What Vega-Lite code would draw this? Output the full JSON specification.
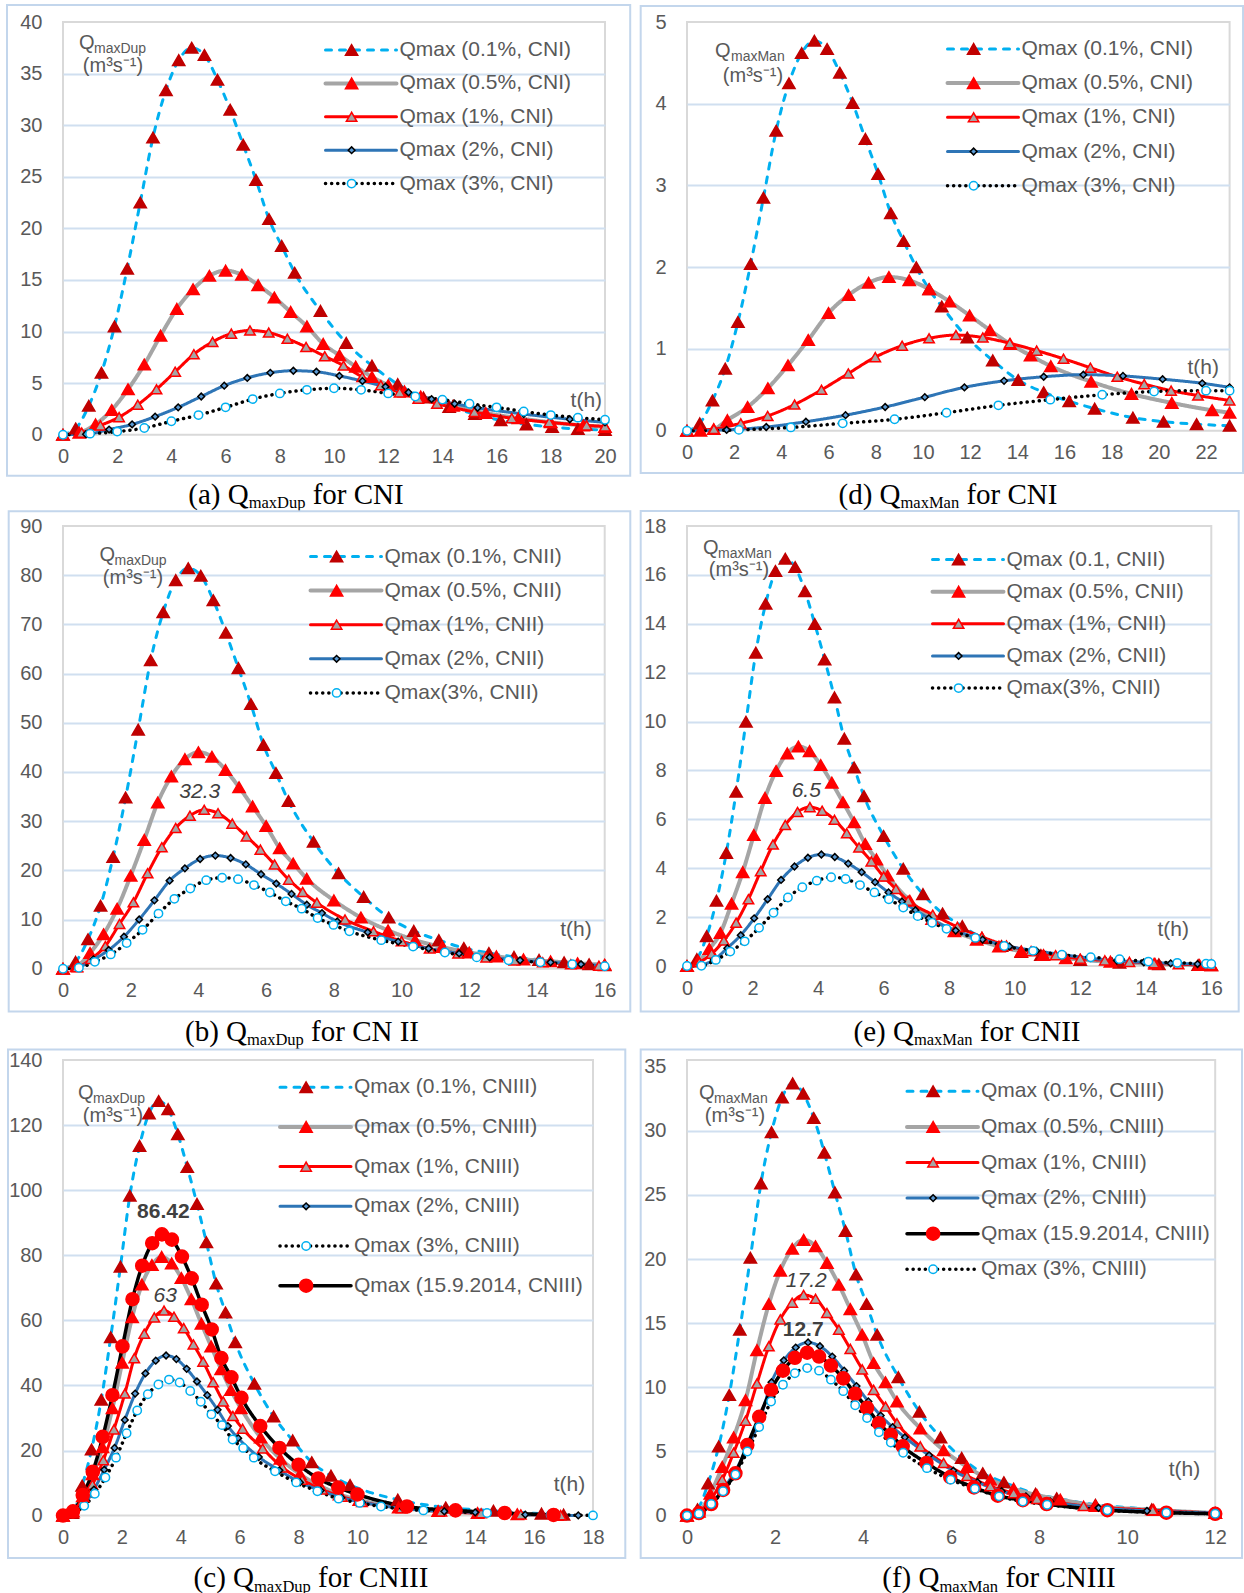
{
"$schema":"https://vega.github.io/schema/vega-lite/v6.json",
"padding":{"left":5,"top":2,"right":2,"bottom":0},
"background":"white",
"columns":2,
"spacing":{"row":91,"column":82},
"bounds":"flush",
"align":"each",
"datasets":{
"A":[
{"s":"a","t":0,"q":0},{"s":"a","t":0.47,"q":0.6},{"s":"a","t":0.95,"q":2.8},{"s":"a","t":1.42,"q":6.0},{"s":"a","t":1.9,"q":10.5},{"s":"a","t":2.37,"q":16.1},{"s":"a","t":2.85,"q":22.5},{"s":"a","t":3.32,"q":28.8},{"s":"a","t":3.8,"q":33.4},{"s":"a","t":4.27,"q":36.3},{"s":"a","t":4.75,"q":37.5},{"s":"a","t":5.22,"q":36.8},{"s":"a","t":5.7,"q":34.4},{"s":"a","t":6.17,"q":31.5},{"s":"a","t":6.65,"q":28.1},{"s":"a","t":7.12,"q":24.7},{"s":"a","t":7.6,"q":20.9},{"s":"a","t":8.07,"q":18.3},{"s":"a","t":8.55,"q":15.7},{"s":"a","t":9.5,"q":12.0},{"s":"a","t":10.45,"q":8.9},{"s":"a","t":11.4,"q":6.7},{"s":"a","t":12.35,"q":4.9},{"s":"a","t":13.3,"q":3.6},{"s":"a","t":14.25,"q":2.7},{"s":"a","t":15.2,"q":2.0},{"s":"a","t":16.15,"q":1.4},{"s":"a","t":17.1,"q":1.0},{"s":"a","t":18.05,"q":0.75},{"s":"a","t":19.0,"q":0.55},{"s":"a","t":20.0,"q":0.45},
{"s":"b","t":0,"q":0},{"s":"b","t":0.6,"q":0.2},{"s":"b","t":1.2,"q":1.0},{"s":"b","t":1.8,"q":2.4},{"s":"b","t":2.4,"q":4.4},{"s":"b","t":3.0,"q":6.8},{"s":"b","t":3.6,"q":9.6},{"s":"b","t":4.2,"q":12.2},{"s":"b","t":4.8,"q":14.1},{"s":"b","t":5.4,"q":15.4},{"s":"b","t":6.0,"q":15.9},{"s":"b","t":6.6,"q":15.5},{"s":"b","t":7.2,"q":14.5},{"s":"b","t":7.8,"q":13.3},{"s":"b","t":8.4,"q":11.9},{"s":"b","t":9.0,"q":10.5},{"s":"b","t":9.6,"q":8.8},{"s":"b","t":10.2,"q":7.7},{"s":"b","t":10.8,"q":6.6},{"s":"b","t":11.4,"q":5.6},{"s":"b","t":12.0,"q":4.8},{"s":"b","t":12.6,"q":4.2},{"s":"b","t":13.2,"q":3.7},{"s":"b","t":14.4,"q":2.8},{"s":"b","t":15.6,"q":2.1},{"s":"b","t":16.8,"q":1.6},{"s":"b","t":18.0,"q":1.2},{"s":"b","t":19.2,"q":0.9},{"s":"b","t":20.0,"q":0.75},
{"s":"c","t":0,"q":0},{"s":"c","t":0.69,"q":0.2},{"s":"c","t":1.38,"q":0.9},{"s":"c","t":2.07,"q":1.7},{"s":"c","t":2.76,"q":2.9},{"s":"c","t":3.45,"q":4.4},{"s":"c","t":4.14,"q":6.1},{"s":"c","t":4.83,"q":7.8},{"s":"c","t":5.52,"q":9.0},{"s":"c","t":6.21,"q":9.8},{"s":"c","t":6.9,"q":10.1},{"s":"c","t":7.59,"q":9.9},{"s":"c","t":8.28,"q":9.3},{"s":"c","t":8.97,"q":8.5},{"s":"c","t":9.66,"q":7.6},{"s":"c","t":10.35,"q":6.7},{"s":"c","t":11.04,"q":5.6},{"s":"c","t":11.73,"q":4.8},{"s":"c","t":12.42,"q":4.1},{"s":"c","t":13.11,"q":3.5},{"s":"c","t":13.8,"q":3.0},{"s":"c","t":15.18,"q":2.2},{"s":"c","t":16.56,"q":1.6},{"s":"c","t":17.94,"q":1.2},{"s":"c","t":19.32,"q":0.9},{"s":"c","t":20.0,"q":0.8},
{"s":"d","t":0,"q":0},{"s":"d","t":0.85,"q":0.05},{"s":"d","t":1.7,"q":0.5},{"s":"d","t":2.55,"q":1.0},{"s":"d","t":3.4,"q":1.75},{"s":"d","t":4.25,"q":2.65},{"s":"d","t":5.1,"q":3.7},{"s":"d","t":5.95,"q":4.75},{"s":"d","t":6.8,"q":5.5},{"s":"d","t":7.65,"q":6.0},{"s":"d","t":8.5,"q":6.2},{"s":"d","t":9.35,"q":6.1},{"s":"d","t":10.2,"q":5.7},{"s":"d","t":11.05,"q":5.2},{"s":"d","t":11.9,"q":4.65},{"s":"d","t":12.75,"q":4.1},{"s":"d","t":13.6,"q":3.45},{"s":"d","t":14.45,"q":3.0},{"s":"d","t":15.3,"q":2.6},{"s":"d","t":17.0,"q":2.0},{"s":"d","t":18.7,"q":1.5},{"s":"d","t":20.0,"q":1.2},
{"s":"e","t":0,"q":0},{"s":"e","t":1,"q":0.1},{"s":"e","t":2,"q":0.3},{"s":"e","t":3,"q":0.65},{"s":"e","t":4,"q":1.3},{"s":"e","t":5,"q":1.9},{"s":"e","t":6,"q":2.65},{"s":"e","t":7,"q":3.45},{"s":"e","t":8,"q":4.0},{"s":"e","t":9,"q":4.35},{"s":"e","t":10,"q":4.5},{"s":"e","t":11,"q":4.35},{"s":"e","t":12,"q":4.0},{"s":"e","t":13,"q":3.7},{"s":"e","t":14,"q":3.4},{"s":"e","t":15,"q":3.0},{"s":"e","t":16,"q":2.65},{"s":"e","t":17,"q":2.25},{"s":"e","t":18,"q":1.9},{"s":"e","t":19,"q":1.65},{"s":"e","t":20,"q":1.45}
],
"D":[
{"s":"a","t":0,"q":0},{"s":"a","t":0.54,"q":0.09},{"s":"a","t":1.08,"q":0.37},{"s":"a","t":1.62,"q":0.76},{"s":"a","t":2.16,"q":1.33},{"s":"a","t":2.7,"q":2.04},{"s":"a","t":3.24,"q":2.85},{"s":"a","t":3.78,"q":3.67},{"s":"a","t":4.32,"q":4.25},{"s":"a","t":4.86,"q":4.62},{"s":"a","t":5.4,"q":4.77},{"s":"a","t":5.94,"q":4.67},{"s":"a","t":6.48,"q":4.38},{"s":"a","t":7.02,"q":4.01},{"s":"a","t":7.56,"q":3.57},{"s":"a","t":8.1,"q":3.14},{"s":"a","t":8.64,"q":2.66},{"s":"a","t":9.18,"q":2.32},{"s":"a","t":9.72,"q":2.0},{"s":"a","t":10.26,"q":1.73},{"s":"a","t":10.8,"q":1.52},{"s":"a","t":11.88,"q":1.14},{"s":"a","t":12.96,"q":0.86},{"s":"a","t":14.04,"q":0.62},{"s":"a","t":15.12,"q":0.47},{"s":"a","t":16.2,"q":0.36},{"s":"a","t":17.28,"q":0.27},{"s":"a","t":18.9,"q":0.16},{"s":"a","t":20.2,"q":0.11},{"s":"a","t":21.6,"q":0.08},{"s":"a","t":23.0,"q":0.06},
{"s":"b","t":0,"q":0},{"s":"b","t":0.57,"q":0},{"s":"b","t":1.13,"q":0.02},{"s":"b","t":1.71,"q":0.13},{"s":"b","t":2.57,"q":0.29},{"s":"b","t":3.43,"q":0.52},{"s":"b","t":4.28,"q":0.8},{"s":"b","t":5.14,"q":1.11},{"s":"b","t":6.0,"q":1.44},{"s":"b","t":6.85,"q":1.66},{"s":"b","t":7.7,"q":1.81},{"s":"b","t":8.56,"q":1.88},{"s":"b","t":9.42,"q":1.84},{"s":"b","t":10.27,"q":1.73},{"s":"b","t":11.13,"q":1.58},{"s":"b","t":11.98,"q":1.41},{"s":"b","t":12.84,"q":1.23},{"s":"b","t":13.7,"q":1.06},{"s":"b","t":14.56,"q":0.92},{"s":"b","t":15.42,"q":0.79},{"s":"b","t":17.13,"q":0.6},{"s":"b","t":18.84,"q":0.45},{"s":"b","t":20.55,"q":0.34},{"s":"b","t":22.26,"q":0.25},{"s":"b","t":23.0,"q":0.22},
{"s":"c","t":0,"q":0},{"s":"c","t":1.14,"q":0.02},{"s":"c","t":2.28,"q":0.09},{"s":"c","t":3.42,"q":0.18},{"s":"c","t":4.56,"q":0.32},{"s":"c","t":5.7,"q":0.5},{"s":"c","t":6.84,"q":0.7},{"s":"c","t":7.98,"q":0.9},{"s":"c","t":9.12,"q":1.04},{"s":"c","t":10.26,"q":1.13},{"s":"c","t":11.4,"q":1.17},{"s":"c","t":12.54,"q":1.14},{"s":"c","t":13.68,"q":1.07},{"s":"c","t":14.82,"q":0.98},{"s":"c","t":15.96,"q":0.88},{"s":"c","t":17.1,"q":0.77},{"s":"c","t":18.24,"q":0.66},{"s":"c","t":19.38,"q":0.57},{"s":"c","t":20.52,"q":0.49},{"s":"c","t":21.66,"q":0.43},{"s":"c","t":23.0,"q":0.37},
{"s":"d","t":0,"q":0},{"s":"d","t":1.68,"q":0.01},{"s":"d","t":3.36,"q":0.045},{"s":"d","t":5.04,"q":0.11},{"s":"d","t":6.72,"q":0.19},{"s":"d","t":8.4,"q":0.29},{"s":"d","t":10.08,"q":0.41},{"s":"d","t":11.76,"q":0.53},{"s":"d","t":13.44,"q":0.61},{"s":"d","t":15.12,"q":0.66},{"s":"d","t":16.8,"q":0.685},{"s":"d","t":18.48,"q":0.67},{"s":"d","t":20.16,"q":0.63},{"s":"d","t":21.84,"q":0.58},{"s":"d","t":23.0,"q":0.53},
{"s":"e","t":0,"q":0},{"s":"e","t":2.2,"q":0.01},{"s":"e","t":4.4,"q":0.04},{"s":"e","t":6.6,"q":0.09},{"s":"e","t":8.8,"q":0.14},{"s":"e","t":11.0,"q":0.22},{"s":"e","t":13.2,"q":0.31},{"s":"e","t":15.4,"q":0.38},{"s":"e","t":17.6,"q":0.44},{"s":"e","t":19.8,"q":0.48},{"s":"e","t":22.0,"q":0.49},{"s":"e","t":23.0,"q":0.49}
],
"B":[
{"s":"a","t":0,"q":0},{"s":"a","t":0.37,"q":1.4},{"s":"a","t":0.74,"q":6.0},{"s":"a","t":1.11,"q":12.8},{"s":"a","t":1.48,"q":22.7},{"s":"a","t":1.85,"q":34.8},{"s":"a","t":2.22,"q":48.6},{"s":"a","t":2.59,"q":62.7},{"s":"a","t":2.96,"q":72.5},{"s":"a","t":3.33,"q":79.0},{"s":"a","t":3.7,"q":81.4},{"s":"a","t":4.07,"q":79.9},{"s":"a","t":4.44,"q":74.9},{"s":"a","t":4.81,"q":68.3},{"s":"a","t":5.18,"q":61.1},{"s":"a","t":5.55,"q":53.8},{"s":"a","t":5.92,"q":45.5},{"s":"a","t":6.29,"q":39.8},{"s":"a","t":6.66,"q":34.1},{"s":"a","t":7.4,"q":25.8},{"s":"a","t":8.14,"q":19.4},{"s":"a","t":8.88,"q":14.6},{"s":"a","t":9.62,"q":10.4},{"s":"a","t":10.36,"q":7.7},{"s":"a","t":11.1,"q":5.8},{"s":"a","t":11.84,"q":4.2},{"s":"a","t":12.58,"q":3.2},{"s":"a","t":13.32,"q":2.4},{"s":"a","t":14.06,"q":1.8},{"s":"a","t":14.8,"q":1.3},{"s":"a","t":15.54,"q":0.9},{"s":"a","t":16.0,"q":0.7},
{"s":"b","t":0,"q":0},{"s":"b","t":0.4,"q":0.5},{"s":"b","t":0.8,"q":3.2},{"s":"b","t":1.2,"q":7.0},{"s":"b","t":1.6,"q":12.2},{"s":"b","t":2.0,"q":18.9},{"s":"b","t":2.4,"q":26.2},{"s":"b","t":2.8,"q":33.8},{"s":"b","t":3.2,"q":39.1},{"s":"b","t":3.6,"q":42.6},{"s":"b","t":4.0,"q":44.0},{"s":"b","t":4.4,"q":43.1},{"s":"b","t":4.8,"q":40.4},{"s":"b","t":5.2,"q":36.9},{"s":"b","t":5.6,"q":33.0},{"s":"b","t":6.0,"q":29.0},{"s":"b","t":6.4,"q":24.5},{"s":"b","t":6.8,"q":21.4},{"s":"b","t":7.2,"q":18.3},{"s":"b","t":8.0,"q":13.9},{"s":"b","t":8.8,"q":10.4},{"s":"b","t":9.6,"q":7.8},{"s":"b","t":10.4,"q":5.8},{"s":"b","t":11.2,"q":4.4},{"s":"b","t":12.0,"q":3.3},{"s":"b","t":12.8,"q":2.5},{"s":"b","t":13.6,"q":1.9},{"s":"b","t":14.4,"q":1.5},{"s":"b","t":15.2,"q":1.1},{"s":"b","t":16.0,"q":0.8},
{"s":"c","t":0,"q":0},{"s":"c","t":0.42,"q":0.3},{"s":"c","t":0.83,"q":2.0},{"s":"c","t":1.25,"q":4.6},{"s":"c","t":1.67,"q":9.1},{"s":"c","t":2.08,"q":13.5},{"s":"c","t":2.5,"q":19.4},{"s":"c","t":2.92,"q":24.7},{"s":"c","t":3.33,"q":28.6},{"s":"c","t":3.75,"q":31.1},{"s":"c","t":4.17,"q":32.3},{"s":"c","t":4.58,"q":31.6},{"s":"c","t":5.0,"q":29.5},{"s":"c","t":5.42,"q":26.9},{"s":"c","t":5.83,"q":24.2},{"s":"c","t":6.25,"q":21.2},{"s":"c","t":6.67,"q":18.1},{"s":"c","t":7.08,"q":15.6},{"s":"c","t":7.5,"q":13.4},{"s":"c","t":8.33,"q":10.0},{"s":"c","t":9.17,"q":7.6},{"s":"c","t":10.0,"q":5.6},{"s":"c","t":10.83,"q":4.1},{"s":"c","t":11.67,"q":3.1},{"s":"c","t":12.5,"q":2.3},{"s":"c","t":13.33,"q":1.7},{"s":"c","t":14.17,"q":1.3},{"s":"c","t":15.0,"q":0.9},{"s":"c","t":15.83,"q":0.6},
{"s":"d","t":0,"q":0},{"s":"d","t":0.45,"q":0.3},{"s":"d","t":0.9,"q":1.9},{"s":"d","t":1.35,"q":3.8},{"s":"d","t":1.8,"q":6.5},{"s":"d","t":2.25,"q":10.0},{"s":"d","t":2.7,"q":13.9},{"s":"d","t":3.15,"q":17.9},{"s":"d","t":3.6,"q":20.4},{"s":"d","t":4.05,"q":22.3},{"s":"d","t":4.5,"q":23.0},{"s":"d","t":4.95,"q":22.5},{"s":"d","t":5.4,"q":21.2},{"s":"d","t":5.85,"q":19.2},{"s":"d","t":6.3,"q":17.3},{"s":"d","t":6.75,"q":15.2},{"s":"d","t":7.2,"q":13.0},{"s":"d","t":7.65,"q":11.3},{"s":"d","t":8.1,"q":9.6},{"s":"d","t":9.0,"q":7.4},{"s":"d","t":9.9,"q":5.5},{"s":"d","t":10.8,"q":4.1},{"s":"d","t":11.7,"q":3.1},{"s":"d","t":12.6,"q":2.3},{"s":"d","t":13.5,"q":1.7},{"s":"d","t":14.4,"q":1.3},{"s":"d","t":15.3,"q":0.9},{"s":"d","t":16.0,"q":0.6},
{"s":"e","t":0,"q":0},{"s":"e","t":0.47,"q":0.2},{"s":"e","t":0.94,"q":1.4},{"s":"e","t":1.41,"q":2.9},{"s":"e","t":1.88,"q":5.2},{"s":"e","t":2.35,"q":7.9},{"s":"e","t":2.82,"q":11.2},{"s":"e","t":3.29,"q":14.2},{"s":"e","t":3.76,"q":16.3},{"s":"e","t":4.23,"q":18.0},{"s":"e","t":4.7,"q":18.5},{"s":"e","t":5.17,"q":18.2},{"s":"e","t":5.64,"q":17.0},{"s":"e","t":6.11,"q":15.5},{"s":"e","t":6.58,"q":13.7},{"s":"e","t":7.05,"q":12.2},{"s":"e","t":7.52,"q":10.3},{"s":"e","t":7.99,"q":8.9},{"s":"e","t":8.46,"q":7.6},{"s":"e","t":9.4,"q":5.8},{"s":"e","t":10.34,"q":4.5},{"s":"e","t":11.28,"q":3.3},{"s":"e","t":12.22,"q":2.3},{"s":"e","t":13.16,"q":1.7},{"s":"e","t":14.1,"q":1.3},{"s":"e","t":15.04,"q":0.9},{"s":"e","t":16.0,"q":0.5}
],
"E":[
{"s":"a","t":0,"q":0},{"s":"a","t":0.3,"q":0.28},{"s":"a","t":0.6,"q":1.22},{"s":"a","t":0.9,"q":2.67},{"s":"a","t":1.2,"q":4.63},{"s":"a","t":1.5,"q":7.13},{"s":"a","t":1.8,"q":9.99},{"s":"a","t":2.1,"q":12.82},{"s":"a","t":2.4,"q":14.82},{"s":"a","t":2.7,"q":16.16},{"s":"a","t":3.0,"q":16.66},{"s":"a","t":3.3,"q":16.32},{"s":"a","t":3.6,"q":15.33},{"s":"a","t":3.9,"q":13.99},{"s":"a","t":4.2,"q":12.54},{"s":"a","t":4.5,"q":10.99},{"s":"a","t":4.8,"q":9.3},{"s":"a","t":5.1,"q":8.12},{"s":"a","t":5.4,"q":6.95},{"s":"a","t":6.0,"q":5.32},{"s":"a","t":6.6,"q":3.98},{"s":"a","t":7.2,"q":2.94},{"s":"a","t":7.8,"q":2.15},{"s":"a","t":8.4,"q":1.63},{"s":"a","t":9.0,"q":1.15},{"s":"a","t":9.6,"q":0.82},{"s":"a","t":10.2,"q":0.58},{"s":"a","t":10.8,"q":0.45},{"s":"a","t":12.0,"q":0.25},{"s":"a","t":13.2,"q":0.14},{"s":"a","t":14.4,"q":0.07},{"s":"a","t":15.6,"q":0.04},{"s":"a","t":16.0,"q":0.03},
{"s":"b","t":0,"q":0},{"s":"b","t":0.34,"q":0.2},{"s":"b","t":0.68,"q":0.7},{"s":"b","t":1.02,"q":1.35},{"s":"b","t":1.36,"q":2.55},{"s":"b","t":1.7,"q":3.84},{"s":"b","t":2.04,"q":5.36},{"s":"b","t":2.38,"q":6.88},{"s":"b","t":2.72,"q":7.98},{"s":"b","t":3.06,"q":8.7},{"s":"b","t":3.4,"q":8.98},{"s":"b","t":3.74,"q":8.79},{"s":"b","t":4.08,"q":8.22},{"s":"b","t":4.42,"q":7.5},{"s":"b","t":4.76,"q":6.7},{"s":"b","t":5.1,"q":5.88},{"s":"b","t":5.44,"q":4.99},{"s":"b","t":5.78,"q":4.36},{"s":"b","t":6.12,"q":3.7},{"s":"b","t":6.8,"q":2.67},{"s":"b","t":7.48,"q":1.93},{"s":"b","t":8.16,"q":1.42},{"s":"b","t":8.84,"q":1.08},{"s":"b","t":9.52,"q":0.8},{"s":"b","t":10.2,"q":0.6},{"s":"b","t":10.88,"q":0.45},{"s":"b","t":11.56,"q":0.32},{"s":"b","t":12.92,"q":0.18},{"s":"b","t":14.28,"q":0.09},{"s":"b","t":15.64,"q":0.04},{"s":"b","t":16.0,"q":0.03},
{"s":"c","t":0,"q":0},{"s":"c","t":0.375,"q":0.15},{"s":"c","t":0.75,"q":0.5},{"s":"c","t":1.125,"q":1.04},{"s":"c","t":1.5,"q":1.77},{"s":"c","t":1.875,"q":2.73},{"s":"c","t":2.25,"q":3.88},{"s":"c","t":2.625,"q":4.97},{"s":"c","t":3.0,"q":5.77},{"s":"c","t":3.375,"q":6.3},{"s":"c","t":3.75,"q":6.5},{"s":"c","t":4.125,"q":6.35},{"s":"c","t":4.5,"q":5.98},{"s":"c","t":4.875,"q":5.43},{"s":"c","t":5.25,"q":4.85},{"s":"c","t":5.625,"q":4.28},{"s":"c","t":6.0,"q":3.66},{"s":"c","t":6.375,"q":3.15},{"s":"c","t":6.75,"q":2.67},{"s":"c","t":7.5,"q":2.1},{"s":"c","t":8.25,"q":1.6},{"s":"c","t":9.0,"q":1.19},{"s":"c","t":9.75,"q":0.84},{"s":"c","t":10.5,"q":0.61},{"s":"c","t":11.25,"q":0.44},{"s":"c","t":12.0,"q":0.3},{"s":"c","t":12.75,"q":0.23},{"s":"c","t":13.5,"q":0.17},{"s":"c","t":14.25,"q":0.11},{"s":"c","t":15.0,"q":0.07},{"s":"c","t":16.0,"q":0.04},
{"s":"d","t":0,"q":0},{"s":"d","t":0.41,"q":0.04},{"s":"d","t":0.82,"q":0.25},{"s":"d","t":1.23,"q":0.73},{"s":"d","t":1.64,"q":1.26},{"s":"d","t":2.05,"q":1.95},{"s":"d","t":2.46,"q":2.73},{"s":"d","t":2.87,"q":3.52},{"s":"d","t":3.28,"q":4.07},{"s":"d","t":3.69,"q":4.43},{"s":"d","t":4.1,"q":4.56},{"s":"d","t":4.51,"q":4.46},{"s":"d","t":4.92,"q":4.19},{"s":"d","t":5.33,"q":3.84},{"s":"d","t":5.74,"q":3.43},{"s":"d","t":6.15,"q":3.01},{"s":"d","t":6.56,"q":2.64},{"s":"d","t":6.97,"q":2.28},{"s":"d","t":7.38,"q":1.95},{"s":"d","t":8.2,"q":1.45},{"s":"d","t":9.02,"q":1.08},{"s":"d","t":9.84,"q":0.8},{"s":"d","t":10.66,"q":0.62},{"s":"d","t":11.48,"q":0.46},{"s":"d","t":12.3,"q":0.32},{"s":"d","t":13.12,"q":0.22},{"s":"d","t":13.94,"q":0.15},{"s":"d","t":14.76,"q":0.11},{"s":"d","t":15.58,"q":0.08},{"s":"d","t":16.0,"q":0.06},
{"s":"e","t":0,"q":0},{"s":"e","t":0.44,"q":0.01},{"s":"e","t":0.88,"q":0.25},{"s":"e","t":1.32,"q":0.59},{"s":"e","t":1.76,"q":1.01},{"s":"e","t":2.2,"q":1.56},{"s":"e","t":2.64,"q":2.18},{"s":"e","t":3.08,"q":2.8},{"s":"e","t":3.52,"q":3.22},{"s":"e","t":3.96,"q":3.49},{"s":"e","t":4.4,"q":3.63},{"s":"e","t":4.84,"q":3.56},{"s":"e","t":5.28,"q":3.31},{"s":"e","t":5.72,"q":3.01},{"s":"e","t":6.16,"q":2.73},{"s":"e","t":6.6,"q":2.39},{"s":"e","t":7.04,"q":2.04},{"s":"e","t":7.48,"q":1.77},{"s":"e","t":7.92,"q":1.52},{"s":"e","t":8.8,"q":1.15},{"s":"e","t":9.68,"q":0.82},{"s":"e","t":10.56,"q":0.62},{"s":"e","t":11.44,"q":0.46},{"s":"e","t":12.32,"q":0.36},{"s":"e","t":13.2,"q":0.28},{"s":"e","t":14.08,"q":0.18},{"s":"e","t":14.96,"q":0.13},{"s":"e","t":15.84,"q":0.09},{"s":"e","t":16.0,"q":0.08}
],
"C":[
{"s":"a","t":0,"q":0},{"s":"a","t":0.32,"q":0.8},{"s":"a","t":0.65,"q":9.2},{"s":"a","t":0.97,"q":20.3},{"s":"a","t":1.3,"q":35.6},{"s":"a","t":1.62,"q":54.8},{"s":"a","t":1.95,"q":76.5},{"s":"a","t":2.27,"q":98.3},{"s":"a","t":2.6,"q":113.6},{"s":"a","t":2.92,"q":123.6},{"s":"a","t":3.25,"q":127.4},{"s":"a","t":3.57,"q":124.9},{"s":"a","t":3.9,"q":117.2},{"s":"a","t":4.22,"q":107.1},{"s":"a","t":4.55,"q":95.8},{"s":"a","t":4.87,"q":84.0},{"s":"a","t":5.2,"q":71.3},{"s":"a","t":5.52,"q":62.4},{"s":"a","t":5.85,"q":53.3},{"s":"a","t":6.5,"q":40.5},{"s":"a","t":7.15,"q":30.5},{"s":"a","t":7.8,"q":23.1},{"s":"a","t":8.45,"q":16.4},{"s":"a","t":9.1,"q":12.3},{"s":"a","t":9.75,"q":9.4},{"s":"a","t":11.37,"q":4.9},{"s":"a","t":13.0,"q":2.5},{"s":"a","t":14.62,"q":1.5},{"s":"a","t":16.25,"q":0.6},{"s":"a","t":17.0,"q":0.3},
{"s":"b","t":0,"q":0},{"s":"b","t":0.34,"q":1.3},{"s":"b","t":0.67,"q":6.0},{"s":"b","t":1.0,"q":12.7},{"s":"b","t":1.34,"q":21.0},{"s":"b","t":1.68,"q":33.0},{"s":"b","t":2.01,"q":47.0},{"s":"b","t":2.35,"q":61.0},{"s":"b","t":2.68,"q":71.0},{"s":"b","t":3.02,"q":77.0},{"s":"b","t":3.35,"q":79.5},{"s":"b","t":3.69,"q":77.5},{"s":"b","t":4.02,"q":73.0},{"s":"b","t":4.36,"q":66.5},{"s":"b","t":4.7,"q":59.0},{"s":"b","t":5.03,"q":52.0},{"s":"b","t":5.37,"q":45.0},{"s":"b","t":5.7,"q":38.6},{"s":"b","t":6.04,"q":33.0},{"s":"b","t":6.71,"q":24.0},{"s":"b","t":7.38,"q":17.5},{"s":"b","t":8.05,"q":12.7},{"s":"b","t":8.72,"q":9.2},{"s":"b","t":9.39,"q":6.5},{"s":"b","t":10.06,"q":4.8},{"s":"b","t":11.4,"q":2.5},{"s":"b","t":12.74,"q":1.4},{"s":"b","t":14.08,"q":0.8},{"s":"b","t":15.43,"q":0.4},{"s":"b","t":16.77,"q":0.2},
{"s":"c","t":0,"q":0},{"s":"c","t":0.34,"q":1.1},{"s":"c","t":0.67,"q":4.5},{"s":"c","t":1.0,"q":9.5},{"s":"c","t":1.37,"q":17.0},{"s":"c","t":1.73,"q":26.5},{"s":"c","t":2.1,"q":37.5},{"s":"c","t":2.42,"q":48.4},{"s":"c","t":2.76,"q":55.9},{"s":"c","t":3.1,"q":60.9},{"s":"c","t":3.43,"q":63.0},{"s":"c","t":3.77,"q":61.1},{"s":"c","t":4.1,"q":57.6},{"s":"c","t":4.43,"q":52.6},{"s":"c","t":4.76,"q":47.3},{"s":"c","t":5.1,"q":41.0},{"s":"c","t":5.44,"q":35.1},{"s":"c","t":5.77,"q":30.6},{"s":"c","t":6.1,"q":26.7},{"s":"c","t":6.78,"q":20.6},{"s":"c","t":7.45,"q":14.8},{"s":"c","t":8.12,"q":11.0},{"s":"c","t":8.8,"q":8.0},{"s":"c","t":9.47,"q":5.8},{"s":"c","t":10.15,"q":4.2},{"s":"c","t":11.5,"q":2.3},{"s":"c","t":12.85,"q":1.3},{"s":"c","t":14.2,"q":0.7},{"s":"c","t":15.55,"q":0.35},{"s":"c","t":16.9,"q":0.15},
{"s":"d","t":0,"q":0},{"s":"d","t":0.35,"q":1.3},{"s":"d","t":0.7,"q":3.2},{"s":"d","t":1.05,"q":8.0},{"s":"d","t":1.4,"q":14.1},{"s":"d","t":1.75,"q":20.8},{"s":"d","t":2.1,"q":29.4},{"s":"d","t":2.45,"q":37.5},{"s":"d","t":2.8,"q":43.7},{"s":"d","t":3.15,"q":47.6},{"s":"d","t":3.5,"q":49.2},{"s":"d","t":3.85,"q":48.1},{"s":"d","t":4.2,"q":45.1},{"s":"d","t":4.55,"q":41.2},{"s":"d","t":4.9,"q":37.0},{"s":"d","t":5.25,"q":32.5},{"s":"d","t":5.6,"q":27.5},{"s":"d","t":5.95,"q":23.8},{"s":"d","t":6.65,"q":18.0},{"s":"d","t":7.35,"q":13.9},{"s":"d","t":8.05,"q":10.2},{"s":"d","t":8.75,"q":7.7},{"s":"d","t":9.45,"q":5.5},{"s":"d","t":10.15,"q":4.1},{"s":"d","t":11.55,"q":2.2},{"s":"d","t":12.95,"q":1.3},{"s":"d","t":14.0,"q":1.0},{"s":"d","t":15.7,"q":0.3},{"s":"d","t":17.5,"q":0.05},
{"s":"e","t":0,"q":0},{"s":"e","t":0.36,"q":0.8},{"s":"e","t":0.72,"q":3.0},{"s":"e","t":1.08,"q":6.7},{"s":"e","t":1.44,"q":11.7},{"s":"e","t":1.8,"q":17.8},{"s":"e","t":2.16,"q":25.3},{"s":"e","t":2.52,"q":32.3},{"s":"e","t":2.88,"q":37.3},{"s":"e","t":3.24,"q":40.3},{"s":"e","t":3.6,"q":41.8},{"s":"e","t":3.96,"q":40.9},{"s":"e","t":4.32,"q":38.3},{"s":"e","t":4.68,"q":35.0},{"s":"e","t":5.04,"q":31.1},{"s":"e","t":5.4,"q":27.8},{"s":"e","t":5.76,"q":23.4},{"s":"e","t":6.12,"q":20.8},{"s":"e","t":6.48,"q":17.8},{"s":"e","t":7.2,"q":13.6},{"s":"e","t":7.92,"q":10.2},{"s":"e","t":8.64,"q":7.5},{"s":"e","t":9.36,"q":5.2},{"s":"e","t":10.08,"q":3.9},{"s":"e","t":10.8,"q":2.8},{"s":"e","t":12.24,"q":1.6},{"s":"e","t":14.4,"q":0.8},{"s":"e","t":16.56,"q":0.25},{"s":"e","t":18.0,"q":0.05},
{"s":"f","t":0,"q":0},{"s":"f","t":0.34,"q":1.3},{"s":"f","t":0.67,"q":6.3},{"s":"f","t":1.01,"q":13.5},{"s":"f","t":1.35,"q":24.2},{"s":"f","t":1.68,"q":37.0},{"s":"f","t":2.02,"q":52.0},{"s":"f","t":2.36,"q":66.5},{"s":"f","t":2.69,"q":76.8},{"s":"f","t":3.03,"q":83.7},{"s":"f","t":3.36,"q":86.42},{"s":"f","t":3.7,"q":84.8},{"s":"f","t":4.04,"q":79.6},{"s":"f","t":4.37,"q":72.9},{"s":"f","t":4.71,"q":64.8},{"s":"f","t":5.05,"q":57.2},{"s":"f","t":5.38,"q":48.4},{"s":"f","t":5.72,"q":42.5},{"s":"f","t":6.06,"q":36.2},{"s":"f","t":6.7,"q":27.5},{"s":"f","t":7.35,"q":20.8},{"s":"f","t":8.0,"q":15.6},{"s":"f","t":8.67,"q":11.4},{"s":"f","t":9.35,"q":8.6},{"s":"f","t":10.0,"q":6.5},{"s":"f","t":11.68,"q":2.8},{"s":"f","t":13.33,"q":1.6},{"s":"f","t":15.0,"q":0.8},{"s":"f","t":16.66,"q":0.2}
],
"F":[
{"s":"a","t":0,"q":0},{"s":"a","t":0.24,"q":0.5},{"s":"a","t":0.48,"q":2.5},{"s":"a","t":0.72,"q":5.4},{"s":"a","t":0.96,"q":9.4},{"s":"a","t":1.2,"q":14.5},{"s":"a","t":1.44,"q":20.1},{"s":"a","t":1.68,"q":25.9},{"s":"a","t":1.92,"q":29.9},{"s":"a","t":2.16,"q":32.6},{"s":"a","t":2.4,"q":33.7},{"s":"a","t":2.64,"q":32.9},{"s":"a","t":2.88,"q":31.0},{"s":"a","t":3.12,"q":28.3},{"s":"a","t":3.36,"q":25.2},{"s":"a","t":3.6,"q":22.2},{"s":"a","t":3.84,"q":18.8},{"s":"a","t":4.08,"q":16.5},{"s":"a","t":4.32,"q":14.1},{"s":"a","t":4.8,"q":10.8},{"s":"a","t":5.28,"q":8.1},{"s":"a","t":5.76,"q":6.1},{"s":"a","t":6.24,"q":4.5},{"s":"a","t":6.72,"q":3.3},{"s":"a","t":7.2,"q":2.6},{"s":"a","t":7.92,"q":1.7},{"s":"a","t":8.4,"q":1.35},{"s":"a","t":9.28,"q":0.85},{"s":"a","t":10.56,"q":0.5},{"s":"a","t":12.0,"q":0.2},
{"s":"b","t":0,"q":0},{"s":"b","t":0.27,"q":0.3},{"s":"b","t":0.53,"q":1.7},{"s":"b","t":0.8,"q":3.8},{"s":"b","t":1.06,"q":6.1},{"s":"b","t":1.33,"q":9.0},{"s":"b","t":1.59,"q":12.9},{"s":"b","t":1.86,"q":16.5},{"s":"b","t":2.12,"q":19.1},{"s":"b","t":2.39,"q":20.8},{"s":"b","t":2.65,"q":21.5},{"s":"b","t":2.92,"q":21.0},{"s":"b","t":3.18,"q":19.7},{"s":"b","t":3.45,"q":18.0},{"s":"b","t":3.71,"q":16.1},{"s":"b","t":3.98,"q":14.1},{"s":"b","t":4.24,"q":11.9},{"s":"b","t":4.51,"q":10.4},{"s":"b","t":4.77,"q":8.9},{"s":"b","t":5.3,"q":6.8},{"s":"b","t":5.83,"q":5.1},{"s":"b","t":6.36,"q":3.8},{"s":"b","t":6.89,"q":2.8},{"s":"b","t":7.42,"q":2.1},{"s":"b","t":7.95,"q":1.6},{"s":"b","t":8.48,"q":1.25},{"s":"b","t":9.28,"q":0.76},{"s":"b","t":10.6,"q":0.45},{"s":"b","t":12.0,"q":0.2},
{"s":"c","t":0,"q":0},{"s":"c","t":0.27,"q":0.3},{"s":"c","t":0.53,"q":1.2},{"s":"c","t":0.8,"q":2.8},{"s":"c","t":1.06,"q":4.9},{"s":"c","t":1.33,"q":7.4},{"s":"c","t":1.59,"q":10.3},{"s":"c","t":1.86,"q":13.2},{"s":"c","t":2.12,"q":15.3},{"s":"c","t":2.39,"q":16.6},{"s":"c","t":2.65,"q":17.2},{"s":"c","t":2.92,"q":16.9},{"s":"c","t":3.18,"q":15.8},{"s":"c","t":3.45,"q":14.5},{"s":"c","t":3.71,"q":13.0},{"s":"c","t":3.98,"q":11.4},{"s":"c","t":4.24,"q":9.8},{"s":"c","t":4.51,"q":8.5},{"s":"c","t":4.77,"q":7.2},{"s":"c","t":5.3,"q":5.4},{"s":"c","t":5.83,"q":4.1},{"s":"c","t":6.36,"q":3.1},{"s":"c","t":6.89,"q":2.3},{"s":"c","t":7.42,"q":1.75},{"s":"c","t":7.95,"q":1.3},{"s":"c","t":9.01,"q":0.76},{"s":"c","t":10.58,"q":0.42},{"s":"c","t":12.0,"q":0.2},
{"s":"d","t":0,"q":0},{"s":"d","t":0.27,"q":0.15},{"s":"d","t":0.55,"q":0.85},{"s":"d","t":0.82,"q":2.06},{"s":"d","t":1.1,"q":3.5},{"s":"d","t":1.37,"q":5.3},{"s":"d","t":1.65,"q":7.4},{"s":"d","t":1.92,"q":10.4},{"s":"d","t":2.2,"q":12.1},{"s":"d","t":2.47,"q":13.1},{"s":"d","t":2.75,"q":13.5},{"s":"d","t":3.02,"q":13.2},{"s":"d","t":3.3,"q":12.4},{"s":"d","t":3.57,"q":11.3},{"s":"d","t":3.85,"q":10.1},{"s":"d","t":4.12,"q":8.9},{"s":"d","t":4.4,"q":7.8},{"s":"d","t":4.67,"q":6.9},{"s":"d","t":4.95,"q":6.1},{"s":"d","t":5.5,"q":4.7},{"s":"d","t":6.05,"q":3.5},{"s":"d","t":6.6,"q":2.6},{"s":"d","t":7.15,"q":1.9},{"s":"d","t":7.7,"q":1.5},{"s":"d","t":8.25,"q":1.1},{"s":"d","t":9.35,"q":0.6},{"s":"d","t":10.45,"q":0.37},{"s":"d","t":12.0,"q":0.2},
{"s":"f","t":0,"q":0},{"s":"f","t":0.27,"q":0.2},{"s":"f","t":0.55,"q":0.9},{"s":"f","t":0.82,"q":2.0},{"s":"f","t":1.1,"q":3.3},{"s":"f","t":1.37,"q":5.5},{"s":"f","t":1.64,"q":7.7},{"s":"f","t":1.91,"q":9.8},{"s":"f","t":2.18,"q":11.3},{"s":"f","t":2.45,"q":12.3},{"s":"f","t":2.73,"q":12.7},{"s":"f","t":3.0,"q":12.4},{"s":"f","t":3.27,"q":11.7},{"s":"f","t":3.55,"q":10.7},{"s":"f","t":3.82,"q":9.5},{"s":"f","t":4.09,"q":8.4},{"s":"f","t":4.36,"q":7.2},{"s":"f","t":4.63,"q":6.3},{"s":"f","t":4.9,"q":5.4},{"s":"f","t":5.44,"q":4.1},{"s":"f","t":5.98,"q":3.0},{"s":"f","t":6.52,"q":2.2},{"s":"f","t":7.06,"q":1.55},{"s":"f","t":7.63,"q":1.2},{"s":"f","t":8.17,"q":0.9},{"s":"f","t":9.55,"q":0.42},{"s":"f","t":10.89,"q":0.23},{"s":"f","t":12.0,"q":0.14},
{"s":"e","t":0,"q":0},{"s":"e","t":0.27,"q":0.15},{"s":"e","t":0.55,"q":0.9},{"s":"e","t":0.82,"q":1.9},{"s":"e","t":1.1,"q":3.2},{"s":"e","t":1.37,"q":5.0},{"s":"e","t":1.64,"q":6.9},{"s":"e","t":1.91,"q":8.9},{"s":"e","t":2.18,"q":10.2},{"s":"e","t":2.45,"q":11.1},{"s":"e","t":2.73,"q":11.5},{"s":"e","t":3.0,"q":11.3},{"s":"e","t":3.27,"q":10.6},{"s":"e","t":3.55,"q":9.7},{"s":"e","t":3.82,"q":8.6},{"s":"e","t":4.09,"q":7.6},{"s":"e","t":4.36,"q":6.5},{"s":"e","t":4.63,"q":5.7},{"s":"e","t":4.91,"q":4.9},{"s":"e","t":5.45,"q":3.7},{"s":"e","t":5.99,"q":2.8},{"s":"e","t":6.54,"q":2.1},{"s":"e","t":7.09,"q":1.5},{"s":"e","t":7.63,"q":1.1},{"s":"e","t":8.18,"q":0.85},{"s":"e","t":9.55,"q":0.42},{"s":"e","t":10.89,"q":0.23},{"s":"e","t":12.0,"q":0.14}
]
},
"concat":[
{"width":542,"height":412.7,"data":{"name":"A"},"layer":[
{"data":{"values":[{}]},"mark":{"type":"rect","fillOpacity":0,"stroke":"#C3D6EC","strokeWidth":2},"encoding":{"x":{"datum":-2.066,"type":"quantitative"},"x2":{"datum":20.93},"y":{"datum":-3.974,"type":"quantitative"},"y2":{"datum":41.65}}},
{"mark":{"type":"line","interpolate":"monotone","strokeCap":"round","strokeJoin":"round"},"encoding":{
"x":{"field":"t","type":"quantitative","scale":{"domain":[0,20],"nice":false,"zero":false},"axis":{"values":[0,2,4,6,8,10,12,14,16,18,20],"title":null}},
"y":{"field":"q","type":"quantitative","scale":{"domain":[0,40],"nice":false,"zero":false},"axis":{"values":[0,5,10,15,20,25,30,35,40],"title":null,"gridColor":{"condition":{"test":"datum.value===0||datum.value===40","value":"transparent"},"value":"#D0DFF0"}}},
"color":{"field":"s","type":"nominal","scale":{"domain":["a","b","c","d","e"],"range":["#00B0F0","#A5A5A5","#FF0000","#2E75B6","#000000"]},"legend":{"orient":"none","legendX":287.5,"legendY":17.5,"direction":"vertical","title":null,"symbolType":"M-14.2,0H14.2","symbolSize":25,"labelFont":"Liberation Sans","labelFontSize":21,"labelColor":"#595959","labelOffset":28,"labelLimit":400,"rowPadding":11.4,"labelExpr":"datum.label=='a'?'Qmax (0.1%, CNI)':datum.label=='b'?'Qmax (0.5%, CNI)':datum.label=='c'?'Qmax (1%, CNI)':datum.label=='d'?'Qmax (2%, CNI)':'Qmax (3%, CNI)'","encode":{"symbols":{"update":{"strokeCap":{"value":"round"}}}}}},
"strokeDash":{"field":"s","type":"nominal","scale":{"domain":["a","b","c","d","e"],"range":[[6,8],[1,0],[1,0],[1,0],[0.1,6]]},"legend":{"orient":"none","legendX":287.5,"legendY":17.5,"title":null}},
"strokeWidth":{"field":"s","type":"nominal","scale":{"type":"ordinal","domain":["a","b","c","d","e"],"range":[3,4,3,3,3.5]},"legend":{"orient":"none","legendX":287.5,"legendY":17.5,"title":null}}}},
{"mark":{"type":"point","filled":true,"opacity":1,"strokeWidth":1.5},"encoding":{
"x":{"field":"t","type":"quantitative"},"y":{"field":"q","type":"quantitative"},
"shape":{"field":"s","type":"nominal","scale":{"domain":["a","b","c","d","e","z"],"range":["triangle-up","triangle-up","triangle-up","diamond","circle","circle"]},"legend":{"orient":"none","legendX":278.1,"legendY":17.5,"direction":"vertical","title":null,"values":["a","b","c","d","e"],"labelFontSize":21,"labelOpacity":0,"rowPadding":11.4,"symbolStrokeWidth":1.5}},
"fill":{"field":"s","type":"nominal","scale":{"domain":["a","b","c","d","e","z"],"range":["#C00000","#FF0000","#A5A5A5","#5B9BD5","#FFFFFF","transparent"]},"legend":{"orient":"none","legendX":278.1,"legendY":17.5,"title":null,"values":["a","b","c","d","e"]}},
"stroke":{"field":"s","type":"nominal","scale":{"domain":["a","b","c","d","e","z"],"range":["#C00000","#FF0000","#FF0000","#000000","#00B0F0","transparent"]},"legend":{"orient":"none","legendX":278.1,"legendY":17.5,"title":null,"values":["a","b","c","d","e"]}},
"size":{"field":"s","type":"nominal","scale":{"type":"ordinal","domain":["a","b","c","d","e","z"],"range":[150,150,110,45,70,0]},"legend":{"orient":"none","legendX":278.1,"legendY":17.5,"title":null,"values":["a","b","c","d","e"]}}}},
{"data":{"values":[{}]},"mark":{"type":"text","text":"(a) Q","font":"Liberation Serif","fontSize":29,"color":"#000000","align":"right","baseline":"alphabetic"},"encoding":{"x":{"datum":6.851,"type":"quantitative"},"y":{"datum":-6.717,"type":"quantitative"}}},
{"data":{"values":[{}]},"mark":{"type":"text","text":"maxDup","font":"Liberation Serif","fontSize":16.5,"color":"#000000","align":"left","baseline":"alphabetic"},"encoding":{"x":{"datum":6.851,"type":"quantitative"},"y":{"datum":-7.104,"type":"quantitative"}}},
{"data":{"values":[{}]},"mark":{"type":"text","text":"for CNI","font":"Liberation Serif","fontSize":29,"color":"#000000","align":"left","baseline":"alphabetic"},"encoding":{"x":{"datum":9.214,"type":"quantitative"},"y":{"datum":-6.717,"type":"quantitative"}}},
{"data":{"values":[{}]},"mark":{"type":"text","text":"Q","font":"Liberation Sans","fontSize":20,"color":"#595959","align":"left","baseline":"alphabetic"},"encoding":{"x":{"datum":0.59,"type":"quantitative"},"y":{"datum":37.38,"type":"quantitative"}}},
{"data":{"values":[{}]},"mark":{"type":"text","text":"maxDup","font":"Liberation Sans","fontSize":14,"color":"#595959","align":"left","baseline":"alphabetic"},"encoding":{"x":{"datum":1.144,"type":"quantitative"},"y":{"datum":36.99,"type":"quantitative"}}},
{"data":{"values":[{}]},"mark":{"type":"text","text":"(m³s⁻¹)","font":"Liberation Sans","fontSize":20,"color":"#595959","align":"center","baseline":"alphabetic"},"encoding":{"x":{"datum":1.845,"type":"quantitative"},"y":{"datum":35.15,"type":"quantitative"}}},
{"data":{"values":[{}]},"mark":{"type":"text","text":"t(h)","font":"Liberation Sans","fontSize":21,"color":"#595959","align":"center","baseline":"middle"},"encoding":{"x":{"datum":19.31,"type":"quantitative"},"y":{"datum":3.3,"type":"quantitative"}}}
]},
{"width":542.6,"height":408.7,"data":{"name":"D"},"layer":[
{"data":{"values":[{}]},"mark":{"type":"rect","fillOpacity":0,"stroke":"#C3D6EC","strokeWidth":2},"encoding":{"x":{"datum":-1.963,"type":"quantitative"},"x2":{"datum":23.57},"y":{"datum":-0.5175,"type":"quantitative"},"y2":{"datum":5.196}}},
{"mark":{"type":"line","interpolate":"monotone","strokeCap":"round","strokeJoin":"round"},"encoding":{
"x":{"field":"t","type":"quantitative","scale":{"domain":[0,23],"nice":false,"zero":false},"axis":{"values":[0,2,4,6,8,10,12,14,16,18,20,22],"title":null}},
"y":{"field":"q","type":"quantitative","scale":{"domain":[0,5],"nice":false,"zero":false},"axis":{"values":[0,1,2,3,4,5],"format":"d","title":null,"gridColor":{"condition":{"test":"datum.value===0||datum.value===5","value":"transparent"},"value":"#D0DFF0"}}},
"color":{"field":"s","type":"nominal","scale":{"domain":["a","b","c","d","e"],"range":["#00B0F0","#A5A5A5","#FF0000","#2E75B6","#000000"]},"legend":{"orient":"none","legendX":285.5,"legendY":16.4,"direction":"vertical","title":null,"symbolType":"M-14.2,0H14.2","symbolSize":25,"labelFont":"Liberation Sans","labelFontSize":21,"labelColor":"#595959","labelOffset":28,"labelLimit":400,"rowPadding":12.2,"labelExpr":"datum.label=='a'?'Qmax (0.1%, CNI)':datum.label=='b'?'Qmax (0.5%, CNI)':datum.label=='c'?'Qmax (1%, CNI)':datum.label=='d'?'Qmax (2%, CNI)':'Qmax (3%, CNI)'","encode":{"symbols":{"update":{"strokeCap":{"value":"round"}}}}}},
"strokeDash":{"field":"s","type":"nominal","scale":{"domain":["a","b","c","d","e"],"range":[[6,8],[1,0],[1,0],[1,0],[0.1,6]]},"legend":{"orient":"none","legendX":285.5,"legendY":16.4,"title":null}},
"strokeWidth":{"field":"s","type":"nominal","scale":{"type":"ordinal","domain":["a","b","c","d","e"],"range":[3,4,3,3,3.5]},"legend":{"orient":"none","legendX":285.5,"legendY":16.4,"title":null}}}},
{"mark":{"type":"point","filled":true,"opacity":1,"strokeWidth":1.5},"encoding":{
"x":{"field":"t","type":"quantitative"},"y":{"field":"q","type":"quantitative"},
"shape":{"field":"s","type":"nominal","scale":{"domain":["a","b","c","d","e","z"],"range":["triangle-up","triangle-up","triangle-up","diamond","circle","circle"]},"legend":{"orient":"none","legendX":276.1,"legendY":16.4,"direction":"vertical","title":null,"values":["a","b","c","d","e"],"labelFontSize":21,"labelOpacity":0,"rowPadding":12.2,"symbolStrokeWidth":1.5}},
"fill":{"field":"s","type":"nominal","scale":{"domain":["a","b","c","d","e","z"],"range":["#C00000","#FF0000","#A5A5A5","#5B9BD5","#FFFFFF","transparent"]},"legend":{"orient":"none","legendX":276.1,"legendY":16.4,"title":null,"values":["a","b","c","d","e"]}},
"stroke":{"field":"s","type":"nominal","scale":{"domain":["a","b","c","d","e","z"],"range":["#C00000","#FF0000","#FF0000","#000000","#00B0F0","transparent"]},"legend":{"orient":"none","legendX":276.1,"legendY":16.4,"title":null,"values":["a","b","c","d","e"]}},
"size":{"field":"s","type":"nominal","scale":{"type":"ordinal","domain":["a","b","c","d","e","z"],"range":[150,150,110,45,70,0]},"legend":{"orient":"none","legendX":276.1,"legendY":16.4,"title":null,"values":["a","b","c","d","e"]}}}},
{"data":{"values":[{}]},"mark":{"type":"text","text":"(d) Q","font":"Liberation Serif","fontSize":29,"color":"#000000","align":"right","baseline":"alphabetic"},"encoding":{"x":{"datum":9.05,"type":"quantitative"},"y":{"datum":-0.8967,"type":"quantitative"}}},
{"data":{"values":[{}]},"mark":{"type":"text","text":"maxMan","font":"Liberation Serif","fontSize":16.5,"color":"#000000","align":"left","baseline":"alphabetic"},"encoding":{"x":{"datum":9.05,"type":"quantitative"},"y":{"datum":-0.9457,"type":"quantitative"}}},
{"data":{"values":[{}]},"mark":{"type":"text","text":"for CNI","font":"Liberation Serif","fontSize":29,"color":"#000000","align":"left","baseline":"alphabetic"},"encoding":{"x":{"datum":11.846,"type":"quantitative"},"y":{"datum":-0.8967,"type":"quantitative"}}},
{"data":{"values":[{}]},"mark":{"type":"text","text":"Q","font":"Liberation Sans","fontSize":20,"color":"#595959","align":"left","baseline":"alphabetic"},"encoding":{"x":{"datum":1.187,"type":"quantitative"},"y":{"datum":4.572,"type":"quantitative"}}},
{"data":{"values":[{}]},"mark":{"type":"text","text":"maxMan","font":"Liberation Sans","fontSize":14,"color":"#595959","align":"left","baseline":"alphabetic"},"encoding":{"x":{"datum":1.865,"type":"quantitative"},"y":{"datum":4.523,"type":"quantitative"}}},
{"data":{"values":[{}]},"mark":{"type":"text","text":"(m³s⁻¹)","font":"Liberation Sans","fontSize":20,"color":"#595959","align":"center","baseline":"alphabetic"},"encoding":{"x":{"datum":2.798,"type":"quantitative"},"y":{"datum":4.266,"type":"quantitative"}}},
{"data":{"values":[{}]},"mark":{"type":"text","text":"t(h)","font":"Liberation Sans","fontSize":21,"color":"#595959","align":"center","baseline":"middle"},"encoding":{"x":{"datum":21.88,"type":"quantitative"},"y":{"datum":0.77,"type":"quantitative"}}}
]},
{"width":541.7,"height":442.7,"data":{"name":"B"},"layer":[
{"data":{"values":[{}]},"mark":{"type":"rect","fillOpacity":0,"stroke":"#C3D6EC","strokeWidth":2},"encoding":{"x":{"datum":-1.604,"type":"quantitative"},"x2":{"datum":16.756},"y":{"datum":-8.72,"type":"quantitative"},"y2":{"datum":92.99}}},
{"mark":{"type":"line","interpolate":"monotone","strokeCap":"round","strokeJoin":"round"},"encoding":{
"x":{"field":"t","type":"quantitative","scale":{"domain":[0,16],"nice":false,"zero":false},"axis":{"values":[0,2,4,6,8,10,12,14,16],"title":null}},
"y":{"field":"q","type":"quantitative","scale":{"domain":[0,90],"nice":false,"zero":false},"axis":{"values":[0,10,20,30,40,50,60,70,80,90],"title":null,"gridColor":{"condition":{"test":"datum.value===0||datum.value===90","value":"transparent"},"value":"#D0DFF0"}}},
"color":{"field":"s","type":"nominal","scale":{"domain":["a","b","c","d","e"],"range":["#00B0F0","#A5A5A5","#FF0000","#2E75B6","#000000"]},"legend":{"orient":"none","legendX":272.5,"legendY":20.0,"direction":"vertical","title":null,"symbolType":"M-14.2,0H14.2","symbolSize":25,"labelFont":"Liberation Sans","labelFontSize":21,"labelColor":"#595959","labelOffset":28,"labelLimit":400,"rowPadding":12.1,"labelExpr":"datum.label=='a'?'Qmax (0.1%, CNII)':datum.label=='b'?'Qmax (0.5%, CNII)':datum.label=='c'?'Qmax (1%, CNII)':datum.label=='d'?'Qmax (2%, CNII)':'Qmax(3%, CNII)'","encode":{"symbols":{"update":{"strokeCap":{"value":"round"}}}}}},
"strokeDash":{"field":"s","type":"nominal","scale":{"domain":["a","b","c","d","e"],"range":[[6,8],[1,0],[1,0],[1,0],[0.1,6]]},"legend":{"orient":"none","legendX":272.5,"legendY":20.0,"title":null}},
"strokeWidth":{"field":"s","type":"nominal","scale":{"type":"ordinal","domain":["a","b","c","d","e"],"range":[3,4,3,3,3.5]},"legend":{"orient":"none","legendX":272.5,"legendY":20.0,"title":null}}}},
{"mark":{"type":"point","filled":true,"opacity":1,"strokeWidth":1.5},"encoding":{
"x":{"field":"t","type":"quantitative"},"y":{"field":"q","type":"quantitative"},
"shape":{"field":"s","type":"nominal","scale":{"domain":["a","b","c","d","e","z"],"range":["triangle-up","triangle-up","triangle-up","diamond","circle","circle"]},"legend":{"orient":"none","legendX":263.1,"legendY":20.0,"direction":"vertical","title":null,"values":["a","b","c","d","e"],"labelFontSize":21,"labelOpacity":0,"rowPadding":12.1,"symbolStrokeWidth":1.5}},
"fill":{"field":"s","type":"nominal","scale":{"domain":["a","b","c","d","e","z"],"range":["#C00000","#FF0000","#A5A5A5","#5B9BD5","#FFFFFF","transparent"]},"legend":{"orient":"none","legendX":263.1,"legendY":20.0,"title":null,"values":["a","b","c","d","e"]}},
"stroke":{"field":"s","type":"nominal","scale":{"domain":["a","b","c","d","e","z"],"range":["#C00000","#FF0000","#FF0000","#000000","#00B0F0","transparent"]},"legend":{"orient":"none","legendX":263.1,"legendY":20.0,"title":null,"values":["a","b","c","d","e"]}},
"size":{"field":"s","type":"nominal","scale":{"type":"ordinal","domain":["a","b","c","d","e","z"],"range":[150,150,110,45,70,0]},"legend":{"orient":"none","legendX":263.1,"legendY":20.0,"title":null,"values":["a","b","c","d","e"]}}}},
{"data":{"values":[{}]},"mark":{"type":"text","text":"(b) Q","font":"Liberation Serif","fontSize":29,"color":"#000000","align":"right","baseline":"alphabetic"},"encoding":{"x":{"datum":5.435,"type":"quantitative"},"y":{"datum":-14.76,"type":"quantitative"}}},
{"data":{"values":[{}]},"mark":{"type":"text","text":"maxDup","font":"Liberation Serif","fontSize":16.5,"color":"#000000","align":"left","baseline":"alphabetic"},"encoding":{"x":{"datum":5.435,"type":"quantitative"},"y":{"datum":-15.57,"type":"quantitative"}}},
{"data":{"values":[{}]},"mark":{"type":"text","text":"for CN II","font":"Liberation Serif","fontSize":29,"color":"#000000","align":"left","baseline":"alphabetic"},"encoding":{"x":{"datum":7.327,"type":"quantitative"},"y":{"datum":-14.76,"type":"quantitative"}}},
{"data":{"values":[{}]},"mark":{"type":"text","text":"Q","font":"Liberation Sans","fontSize":20,"color":"#595959","align":"left","baseline":"alphabetic"},"encoding":{"x":{"datum":1.078,"type":"quantitative"},"y":{"datum":82.82,"type":"quantitative"}}},
{"data":{"values":[{}]},"mark":{"type":"text","text":"maxDup","font":"Liberation Sans","fontSize":14,"color":"#595959","align":"left","baseline":"alphabetic"},"encoding":{"x":{"datum":1.521,"type":"quantitative"},"y":{"datum":82.0,"type":"quantitative"}}},
{"data":{"values":[{}]},"mark":{"type":"text","text":"(m³s⁻¹)","font":"Liberation Sans","fontSize":20,"color":"#595959","align":"center","baseline":"alphabetic"},"encoding":{"x":{"datum":2.068,"type":"quantitative"},"y":{"datum":78.15,"type":"quantitative"}}},
{"data":{"values":[{}]},"mark":{"type":"text","text":"t(h)","font":"Liberation Sans","fontSize":21,"color":"#595959","align":"center","baseline":"middle"},"encoding":{"x":{"datum":15.15,"type":"quantitative"},"y":{"datum":7.9,"type":"quantitative"}}},
{"data":{"values":[{}]},"mark":{"type":"text","text":"32.3","font":"Liberation Sans","fontSize":21,"fontStyle":"italic","color":"#404040","align":"center","baseline":"middle"},"encoding":{"x":{"datum":4.04,"type":"quantitative"},"y":{"datum":35.9,"type":"quantitative"}}}
]},
{"width":524.3,"height":440,"data":{"name":"E"},"layer":[
{"data":{"values":[{}]},"mark":{"type":"rect","fillOpacity":0,"stroke":"#C3D6EC","strokeWidth":2},"encoding":{"x":{"datum":-1.413,"type":"quantitative"},"x2":{"datum":16.836},"y":{"datum":-1.865,"type":"quantitative"},"y2":{"datum":18.61}}},
{"mark":{"type":"line","interpolate":"monotone","strokeCap":"round","strokeJoin":"round"},"encoding":{
"x":{"field":"t","type":"quantitative","scale":{"domain":[0,16],"nice":false,"zero":false},"axis":{"values":[0,2,4,6,8,10,12,14,16],"title":null}},
"y":{"field":"q","type":"quantitative","scale":{"domain":[0,18],"nice":false,"zero":false},"axis":{"values":[0,2,4,6,8,10,12,14,16,18],"title":null,"gridColor":{"condition":{"test":"datum.value===0||datum.value===18","value":"transparent"},"value":"#D0DFF0"}}},
"color":{"field":"s","type":"nominal","scale":{"domain":["a","b","c","d","e"],"range":["#00B0F0","#A5A5A5","#FF0000","#2E75B6","#000000"]},"legend":{"orient":"none","legendX":270.5,"legendY":23.0,"direction":"vertical","title":null,"symbolType":"M-14.2,0H14.2","symbolSize":25,"labelFont":"Liberation Sans","labelFontSize":21,"labelColor":"#595959","labelOffset":28,"labelLimit":400,"rowPadding":10.15,"labelExpr":"datum.label=='a'?'Qmax (0.1, CNII)':datum.label=='b'?'Qmax (0.5%, CNII)':datum.label=='c'?'Qmax (1%, CNII)':datum.label=='d'?'Qmax (2%, CNII)':'Qmax(3%, CNII)'","encode":{"symbols":{"update":{"strokeCap":{"value":"round"}}}}}},
"strokeDash":{"field":"s","type":"nominal","scale":{"domain":["a","b","c","d","e"],"range":[[6,8],[1,0],[1,0],[1,0],[0.1,6]]},"legend":{"orient":"none","legendX":270.5,"legendY":23.0,"title":null}},
"strokeWidth":{"field":"s","type":"nominal","scale":{"type":"ordinal","domain":["a","b","c","d","e"],"range":[3,4,3,3,3.5]},"legend":{"orient":"none","legendX":270.5,"legendY":23.0,"title":null}}}},
{"mark":{"type":"point","filled":true,"opacity":1,"strokeWidth":1.5},"encoding":{
"x":{"field":"t","type":"quantitative"},"y":{"field":"q","type":"quantitative"},
"shape":{"field":"s","type":"nominal","scale":{"domain":["a","b","c","d","e","z"],"range":["triangle-up","triangle-up","triangle-up","diamond","circle","circle"]},"legend":{"orient":"none","legendX":261.1,"legendY":23.0,"direction":"vertical","title":null,"values":["a","b","c","d","e"],"labelFontSize":21,"labelOpacity":0,"rowPadding":10.15,"symbolStrokeWidth":1.5}},
"fill":{"field":"s","type":"nominal","scale":{"domain":["a","b","c","d","e","z"],"range":["#C00000","#FF0000","#A5A5A5","#5B9BD5","#FFFFFF","transparent"]},"legend":{"orient":"none","legendX":261.1,"legendY":23.0,"title":null,"values":["a","b","c","d","e"]}},
"stroke":{"field":"s","type":"nominal","scale":{"domain":["a","b","c","d","e","z"],"range":["#C00000","#FF0000","#FF0000","#000000","#00B0F0","transparent"]},"legend":{"orient":"none","legendX":261.1,"legendY":23.0,"title":null,"values":["a","b","c","d","e"]}},
"size":{"field":"s","type":"nominal","scale":{"type":"ordinal","domain":["a","b","c","d","e","z"],"range":[150,150,110,45,70,0]},"legend":{"orient":"none","legendX":261.1,"legendY":23.0,"title":null,"values":["a","b","c","d","e"]}}}},
{"data":{"values":[{}]},"mark":{"type":"text","text":"(e) Q","font":"Liberation Serif","fontSize":29,"color":"#000000","align":"right","baseline":"alphabetic"},"encoding":{"x":{"datum":6.924,"type":"quantitative"},"y":{"datum":-3.08,"type":"quantitative"}}},
{"data":{"values":[{}]},"mark":{"type":"text","text":"maxMan","font":"Liberation Serif","fontSize":16.5,"color":"#000000","align":"left","baseline":"alphabetic"},"encoding":{"x":{"datum":6.924,"type":"quantitative"},"y":{"datum":-3.244,"type":"quantitative"}}},
{"data":{"values":[{}]},"mark":{"type":"text","text":"for CNII","font":"Liberation Serif","fontSize":29,"color":"#000000","align":"left","baseline":"alphabetic"},"encoding":{"x":{"datum":8.937,"type":"quantitative"},"y":{"datum":-3.08,"type":"quantitative"}}},
{"data":{"values":[{}]},"mark":{"type":"text","text":"Q","font":"Liberation Sans","fontSize":20,"color":"#595959","align":"left","baseline":"alphabetic"},"encoding":{"x":{"datum":0.488,"type":"quantitative"},"y":{"datum":16.84,"type":"quantitative"}}},
{"data":{"values":[{}]},"mark":{"type":"text","text":"maxMan","font":"Liberation Sans","fontSize":14,"color":"#595959","align":"left","baseline":"alphabetic"},"encoding":{"x":{"datum":0.946,"type":"quantitative"},"y":{"datum":16.68,"type":"quantitative"}}},
{"data":{"values":[{}]},"mark":{"type":"text","text":"(m³s⁻¹)","font":"Liberation Sans","fontSize":20,"color":"#595959","align":"center","baseline":"alphabetic"},"encoding":{"x":{"datum":1.587,"type":"quantitative"},"y":{"datum":15.95,"type":"quantitative"}}},
{"data":{"values":[{}]},"mark":{"type":"text","text":"t(h)","font":"Liberation Sans","fontSize":21,"color":"#595959","align":"center","baseline":"middle"},"encoding":{"x":{"datum":14.84,"type":"quantitative"},"y":{"datum":1.49,"type":"quantitative"}}},
{"data":{"values":[{}]},"mark":{"type":"text","text":"6.5","font":"Liberation Sans","fontSize":21,"fontStyle":"italic","color":"#404040","align":"center","baseline":"middle"},"encoding":{"x":{"datum":3.64,"type":"quantitative"},"y":{"datum":7.15,"type":"quantitative"}}}
]},
{"width":530,"height":455.6,"data":{"name":"C"},"layer":[
{"data":{"values":[{}]},"mark":{"type":"rect","fillOpacity":0,"stroke":"#C3D6EC","strokeWidth":2},"encoding":{"x":{"datum":-1.868,"type":"quantitative"},"x2":{"datum":19.097},"y":{"datum":-13.0,"type":"quantitative"},"y2":{"datum":143.2}}},
{"mark":{"type":"line","interpolate":"monotone","strokeCap":"round","strokeJoin":"round"},"encoding":{
"x":{"field":"t","type":"quantitative","scale":{"domain":[0,18],"nice":false,"zero":false},"axis":{"values":[0,2,4,6,8,10,12,14,16,18],"title":null}},
"y":{"field":"q","type":"quantitative","scale":{"domain":[0,140],"nice":false,"zero":false},"axis":{"values":[0,20,40,60,80,100,120,140],"title":null,"gridColor":{"condition":{"test":"datum.value===0||datum.value===140","value":"transparent"},"value":"#D0DFF0"}}},
"color":{"field":"s","type":"nominal","scale":{"domain":["a","b","c","d","e","f"],"range":["#00B0F0","#A5A5A5","#FF0000","#2E75B6","#000000","#000000"]},"legend":{"orient":"none","legendX":242,"legendY":16.7,"direction":"vertical","title":null,"symbolType":"M-14.2,0H14.2","symbolSize":25,"labelFont":"Liberation Sans","labelFontSize":21,"labelColor":"#595959","labelOffset":28,"labelLimit":400,"rowPadding":17.7,"labelExpr":"datum.label=='a'?'Qmax (0.1%, CNIII)':datum.label=='b'?'Qmax (0.5%, CNIII)':datum.label=='c'?'Qmax (1%, CNIII)':datum.label=='d'?'Qmax (2%, CNIII)':datum.label=='e'?'Qmax (3%, CNIII)':'Qmax (15.9.2014, CNIII)'","encode":{"symbols":{"update":{"strokeCap":{"value":"round"}}}}}},
"strokeDash":{"field":"s","type":"nominal","scale":{"domain":["a","b","c","d","e","f"],"range":[[6,8],[1,0],[1,0],[1,0],[0.1,6],[1,0]]},"legend":{"orient":"none","legendX":242,"legendY":16.7,"title":null}},
"strokeWidth":{"field":"s","type":"nominal","scale":{"type":"ordinal","domain":["a","b","c","d","e","f"],"range":[3,4,3,3,3.5,3.5]},"legend":{"orient":"none","legendX":242,"legendY":16.7,"title":null}}}},
{"mark":{"type":"point","filled":true,"opacity":1,"strokeWidth":1.5},"encoding":{
"x":{"field":"t","type":"quantitative"},"y":{"field":"q","type":"quantitative"},
"shape":{"field":"s","type":"nominal","scale":{"domain":["a","b","c","d","e","f","z"],"range":["triangle-up","triangle-up","triangle-up","diamond","circle","circle","circle"]},"legend":{"orient":"none","legendX":232.6,"legendY":16.7,"direction":"vertical","title":null,"values":["a","b","c","d","e","f"],"labelFontSize":21,"labelOpacity":0,"rowPadding":17.7,"symbolStrokeWidth":1.5}},
"fill":{"field":"s","type":"nominal","scale":{"domain":["a","b","c","d","e","f","z"],"range":["#C00000","#FF0000","#A5A5A5","#5B9BD5","#FFFFFF","#FF0000","transparent"]},"legend":{"orient":"none","legendX":232.6,"legendY":16.7,"title":null,"values":["a","b","c","d","e","f"]}},
"stroke":{"field":"s","type":"nominal","scale":{"domain":["a","b","c","d","e","f","z"],"range":["#C00000","#FF0000","#FF0000","#000000","#00B0F0","#FF0000","transparent"]},"legend":{"orient":"none","legendX":232.6,"legendY":16.7,"title":null,"values":["a","b","c","d","e","f"]}},
"size":{"field":"s","type":"nominal","scale":{"type":"ordinal","domain":["a","b","c","d","e","f","z"],"range":[150,150,110,45,70,170,0]},"legend":{"orient":"none","legendX":232.6,"legendY":16.7,"title":null,"values":["a","b","c","d","e","f"]}}}},
{"data":{"values":[{}]},"mark":{"type":"text","text":"(c) Q","font":"Liberation Serif","fontSize":29,"color":"#000000","align":"right","baseline":"alphabetic"},"encoding":{"x":{"datum":6.487,"type":"quantitative"},"y":{"datum":-21.82,"type":"quantitative"}}},
{"data":{"values":[{}]},"mark":{"type":"text","text":"maxDup","font":"Liberation Serif","fontSize":16.5,"color":"#000000","align":"left","baseline":"alphabetic"},"encoding":{"x":{"datum":6.487,"type":"quantitative"},"y":{"datum":-23.35,"type":"quantitative"}}},
{"data":{"values":[{}]},"mark":{"type":"text","text":"for CNIII","font":"Liberation Serif","fontSize":29,"color":"#000000","align":"left","baseline":"alphabetic"},"encoding":{"x":{"datum":8.662,"type":"quantitative"},"y":{"datum":-21.82,"type":"quantitative"}}},
{"data":{"values":[{}]},"mark":{"type":"text","text":"Q","font":"Liberation Sans","fontSize":20,"color":"#595959","align":"left","baseline":"alphabetic"},"encoding":{"x":{"datum":0.509,"type":"quantitative"},"y":{"datum":128.1,"type":"quantitative"}}},
{"data":{"values":[{}]},"mark":{"type":"text","text":"maxDup","font":"Liberation Sans","fontSize":14,"color":"#595959","align":"left","baseline":"alphabetic"},"encoding":{"x":{"datum":1.019,"type":"quantitative"},"y":{"datum":126.9,"type":"quantitative"}}},
{"data":{"values":[{}]},"mark":{"type":"text","text":"(m³s⁻¹)","font":"Liberation Sans","fontSize":20,"color":"#595959","align":"center","baseline":"alphabetic"},"encoding":{"x":{"datum":1.698,"type":"quantitative"},"y":{"datum":121.1,"type":"quantitative"}}},
{"data":{"values":[{}]},"mark":{"type":"text","text":"t(h)","font":"Liberation Sans","fontSize":21,"color":"#595959","align":"center","baseline":"middle"},"encoding":{"x":{"datum":17.2,"type":"quantitative"},"y":{"datum":9.5,"type":"quantitative"}}},
{"data":{"values":[{}]},"mark":{"type":"text","text":"86.42","font":"Liberation Sans","fontSize":21,"fontWeight":"bold","color":"#404040","align":"center","baseline":"middle"},"encoding":{"x":{"datum":3.41,"type":"quantitative"},"y":{"datum":93.2,"type":"quantitative"}}},
{"data":{"values":[{}]},"mark":{"type":"text","text":"63","font":"Liberation Sans","fontSize":21,"fontStyle":"italic","color":"#404040","align":"center","baseline":"middle"},"encoding":{"x":{"datum":3.47,"type":"quantitative"},"y":{"datum":67.6,"type":"quantitative"}}}
]},
{"width":528.2,"height":455.6,"data":{"name":"F"},"layer":[
{"data":{"values":[{}]},"mark":{"type":"rect","fillOpacity":0,"stroke":"#C3D6EC","strokeWidth":2},"encoding":{"x":{"datum":-1.052,"type":"quantitative"},"x2":{"datum":12.609},"y":{"datum":-3.298,"type":"quantitative"},"y2":{"datum":36.33}}},
{"mark":{"type":"line","interpolate":"monotone","strokeCap":"round","strokeJoin":"round"},"encoding":{
"x":{"field":"t","type":"quantitative","scale":{"domain":[0,12],"nice":false,"zero":false},"axis":{"values":[0,2,4,6,8,10,12],"title":null}},
"y":{"field":"q","type":"quantitative","scale":{"domain":[0,35.52],"nice":false,"zero":false},"axis":{"values":[0,5,10,15,20,25,30,35],"title":null,"gridColor":{"condition":{"test":"datum.value===0||datum.value===35","value":"transparent"},"value":"#D0DFF0"}}},
"color":{"field":"s","type":"nominal","scale":{"domain":["a","b","c","d","f","e"],"range":["#00B0F0","#A5A5A5","#FF0000","#2E75B6","#000000","#000000"]},"legend":{"orient":"none","legendX":245,"legendY":20.8,"direction":"vertical","title":null,"symbolType":"M-14.2,0H14.2","symbolSize":25,"labelFont":"Liberation Sans","labelFontSize":21,"labelColor":"#595959","labelOffset":28,"labelLimit":400,"rowPadding":13.6,"labelExpr":"datum.label=='a'?'Qmax (0.1%, CNIII)':datum.label=='b'?'Qmax (0.5%, CNIII)':datum.label=='c'?'Qmax (1%, CNIII)':datum.label=='d'?'Qmax (2%, CNIII)':datum.label=='e'?'Qmax (3%, CNIII)':'Qmax (15.9.2014, CNIII)'","encode":{"symbols":{"update":{"strokeCap":{"value":"round"}}}}}},
"strokeDash":{"field":"s","type":"nominal","scale":{"domain":["a","b","c","d","f","e"],"range":[[6,8],[1,0],[1,0],[1,0],[1,0],[0.1,6]]},"legend":{"orient":"none","legendX":245,"legendY":20.8,"title":null}},
"strokeWidth":{"field":"s","type":"nominal","scale":{"type":"ordinal","domain":["a","b","c","d","f","e"],"range":[3,4,3,3,3.5,3.5]},"legend":{"orient":"none","legendX":245,"legendY":20.8,"title":null}}}},
{"mark":{"type":"point","filled":true,"opacity":1,"strokeWidth":1.5},"encoding":{
"x":{"field":"t","type":"quantitative"},"y":{"field":"q","type":"quantitative"},
"shape":{"field":"s","type":"nominal","scale":{"domain":["a","b","c","d","f","e","z"],"range":["triangle-up","triangle-up","triangle-up","diamond","circle","circle","circle"]},"legend":{"orient":"none","legendX":235.6,"legendY":20.8,"direction":"vertical","title":null,"values":["a","b","c","d","f","e"],"labelFontSize":21,"labelOpacity":0,"rowPadding":13.6,"symbolStrokeWidth":1.5}},
"fill":{"field":"s","type":"nominal","scale":{"domain":["a","b","c","d","f","e","z"],"range":["#C00000","#FF0000","#A5A5A5","#5B9BD5","#FF0000","#FFFFFF","transparent"]},"legend":{"orient":"none","legendX":235.6,"legendY":20.8,"title":null,"values":["a","b","c","d","f","e"]}},
"stroke":{"field":"s","type":"nominal","scale":{"domain":["a","b","c","d","f","e","z"],"range":["#C00000","#FF0000","#FF0000","#000000","#FF0000","#00B0F0","transparent"]},"legend":{"orient":"none","legendX":235.6,"legendY":20.8,"title":null,"values":["a","b","c","d","f","e"]}},
"size":{"field":"s","type":"nominal","scale":{"type":"ordinal","domain":["a","b","c","d","f","e","z"],"range":[150,150,110,45,170,70,0]},"legend":{"orient":"none","legendX":235.6,"legendY":20.8,"title":null,"values":["a","b","c","d","f","e"]}}}},
{"data":{"values":[{}]},"mark":{"type":"text","text":"(f) Q","font":"Liberation Serif","fontSize":29,"color":"#000000","align":"right","baseline":"alphabetic"},"encoding":{"x":{"datum":5.735,"type":"quantitative"},"y":{"datum":-5.535,"type":"quantitative"}}},
{"data":{"values":[{}]},"mark":{"type":"text","text":"maxMan","font":"Liberation Serif","fontSize":16.5,"color":"#000000","align":"left","baseline":"alphabetic"},"encoding":{"x":{"datum":5.735,"type":"quantitative"},"y":{"datum":-5.925,"type":"quantitative"}}},
{"data":{"values":[{}]},"mark":{"type":"text","text":"for CNIII","font":"Liberation Serif","fontSize":29,"color":"#000000","align":"left","baseline":"alphabetic"},"encoding":{"x":{"datum":7.234,"type":"quantitative"},"y":{"datum":-5.535,"type":"quantitative"}}},
{"data":{"values":[{}]},"mark":{"type":"text","text":"Q","font":"Liberation Sans","fontSize":20,"color":"#595959","align":"left","baseline":"alphabetic"},"encoding":{"x":{"datum":0.273,"type":"quantitative"},"y":{"datum":32.51,"type":"quantitative"}}},
{"data":{"values":[{}]},"mark":{"type":"text","text":"maxMan","font":"Liberation Sans","fontSize":14,"color":"#595959","align":"left","baseline":"alphabetic"},"encoding":{"x":{"datum":0.613,"type":"quantitative"},"y":{"datum":32.2,"type":"quantitative"}}},
{"data":{"values":[{}]},"mark":{"type":"text","text":"(m³s⁻¹)","font":"Liberation Sans","fontSize":20,"color":"#595959","align":"center","baseline":"alphabetic"},"encoding":{"x":{"datum":1.09,"type":"quantitative"},"y":{"datum":30.72,"type":"quantitative"}}},
{"data":{"values":[{}]},"mark":{"type":"text","text":"t(h)","font":"Liberation Sans","fontSize":21,"color":"#595959","align":"center","baseline":"middle"},"encoding":{"x":{"datum":11.3,"type":"quantitative"},"y":{"datum":3.53,"type":"quantitative"}}},
{"data":{"values":[{}]},"mark":{"type":"text","text":"17.2","font":"Liberation Sans","fontSize":21,"fontStyle":"italic","color":"#404040","align":"center","baseline":"middle"},"encoding":{"x":{"datum":2.71,"type":"quantitative"},"y":{"datum":18.3,"type":"quantitative"}}},
{"data":{"values":[{}]},"mark":{"type":"text","text":"12.7","font":"Liberation Sans","fontSize":21,"fontWeight":"bold","color":"#404040","align":"center","baseline":"middle"},"encoding":{"x":{"datum":2.64,"type":"quantitative"},"y":{"datum":14.5,"type":"quantitative"}}}
]}
],
"resolve":{"scale":{"x":"independent","y":"independent","color":"independent","strokeDash":"independent","strokeWidth":"independent","fill":"independent","stroke":"independent","shape":"independent","size":"independent"},"legend":{"color":"independent","strokeDash":"independent","strokeWidth":"independent","fill":"independent","stroke":"independent","shape":"independent","size":"independent"}},
"config":{
"view":{"stroke":"#D9D9D9","strokeWidth":2},
"axis":{"labelFont":"Liberation Sans","labelFontSize":20,"labelColor":"#595959","ticks":false,"tickSize":0,"domain":false,"labelFlush":false,"labelOverlap":false},
"axisX":{"grid":false,"labelPadding":12},
"axisY":{"grid":true,"gridWidth":2,"labelPadding":21}
}
}
